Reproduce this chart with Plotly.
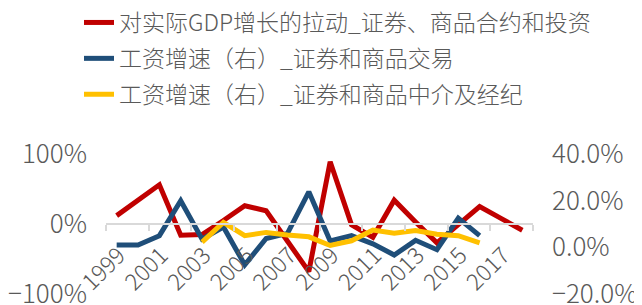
import plotly.graph_objects as go

years = list(range(1999, 2019))
gdp_pull = [12, 34, 56, -16, -15, 5, 26, 19, -25, -68, 89, -1, -19, 34, 3, -27, -1, 25, 8, -9]
wage_trade = [1, 1, 5, 20, 3.5, 8.7, -7.5, 3.8, 6, 23.8, 2.7, 5, 1.5, -3.3, 3, -1, 12.5, 5, None, None]
wage_broker = [None, None, None, None, 2.2, 10.7, 5, 6.4, 5.3, 4.5, 0.8, 2.8, 7.4, 6, 7.2, 5.6, 5, 1.9, None, None]

names = ["对实际GDP增长的拉动_证券、商品合约和投资",
         "工资增速（右）_证券和商品交易",
         "工资增速（右）_证券和商品中介及经纪"]
colors = ["#C00000", "#1F4E79", "#FFC000"]

left_ticks = [-100, 0, 100]
left_text = ["−100%", "0%", "100%"]
right_ticks = [-20, 0, 20, 40]
right_text = ["−20.0%", "0.0%", "20.0%", "40.0%"]

FONT = "Noto Sans CJK SC"
GRAY = "#595959"

# the page body adds an 8px offset; the figure is sized to fit the window after it
W, H = 634, 297
L, R, T, B = 98, 109, 146, 11
PW, PH = W - L - R, H - T - B

fig = go.Figure()
fig.add_trace(go.Scatter(x=years, y=gdp_pull, name=names[0], mode="lines",
                         line=dict(color=colors[0], width=5), yaxis="y", legendgroup="a"))
fig.add_trace(go.Scatter(x=years, y=wage_trade, name=names[1], mode="lines",
                         line=dict(color=colors[1], width=5), yaxis="y2", legendgroup="b"))
fig.add_trace(go.Scatter(x=years, y=wage_broker, name=names[2], mode="lines",
                         line=dict(color=colors[2], width=5), yaxis="y2", legendgroup="c"))

fig.update_layout(
    width=W, height=H,
    margin=dict(l=L, r=R, t=T, b=B, autoexpand=False),
    paper_bgcolor="white", plot_bgcolor="white",
    font=dict(family=FONT, size=23, color=GRAY, weight=300),
    showlegend=True,
    legend=dict(x=(71 - L) / PW, y=(H - B + 7) / PH,
                xanchor="left", yanchor="top", traceorder="grouped",
                tracegroupgap=3, font=dict(size=23, color=GRAY),
                bgcolor="rgba(0,0,0,0)"),
    xaxis=dict(range=[1998.5, 2018.5], anchor="free", position=0.5,
               tickmode="linear", tick0=1999, dtick=2, tickformat="d",
               tickangle=-45, ticks="", showgrid=False, zeroline=False,
               showline=True, linecolor="#D9D9D9", linewidth=1.5,
               ticklabeloverflow="allow", ticklabelstandoff=8, ticklabelshift=2,
               tickfont=dict(size=23, color=GRAY),
               minor=dict(tickmode="linear", tick0=1998.5, dtick=2, ticks="outside", ticklen=6,
                          tickcolor="#D9D9D9", tickwidth=1.5, showgrid=False)),
    yaxis=dict(range=[-100, 100], tickmode="array", tickvals=left_ticks, ticktext=left_text,
               showgrid=False, zeroline=False, showline=False, ticks="",
               ticklabeloverflow="allow",
               ticklabelstandoff=18, tickfont=dict(size=26, color=GRAY)),
    yaxis2=dict(range=[-20, 40], tickmode="array", tickvals=right_ticks, ticktext=right_text,
                overlaying="y", side="right",
                showgrid=False, zeroline=False, showline=False, ticks="",
                ticklabeloverflow="allow",
                ticklabelstandoff=18, tickfont=dict(size=26, color=GRAY)),
)

fig.write_html("out.html")
